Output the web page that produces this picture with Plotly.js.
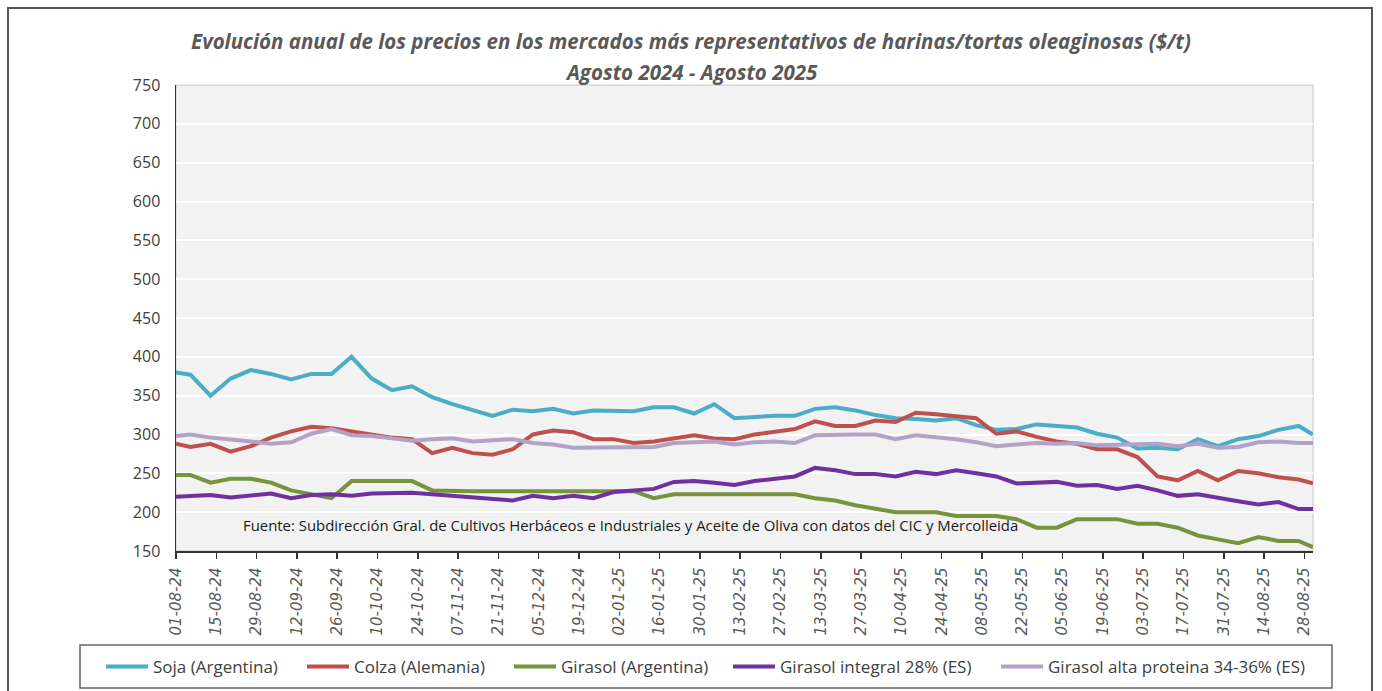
<!DOCTYPE html>
<html>
<head>
<meta charset="utf-8">
<script src="https://cdn.plot.ly/plotly-3.0.1.min.js"></script>
<style>
  html, body { margin: 0; padding: 0; background: #fff; }
  #chart { width: 1382px; height: 691px; }
  #frame { position: absolute; left: 7px; top: 7px; width: 1366px; height: 700px;
           border: 2px solid #555; pointer-events: none; box-sizing: border-box; }
</style>
</head>
<body>
<div id="chart"></div>
<div id="frame"></div>
<script>
// Fechas de las observaciones
const dates = [
  '2024-08-01',
  '2024-08-06','2024-08-13','2024-08-20','2024-08-27',
  '2024-09-03','2024-09-10','2024-09-17','2024-09-24',
  '2024-10-01','2024-10-08','2024-10-15','2024-10-22','2024-10-29',
  '2024-11-05','2024-11-12','2024-11-19','2024-11-26',
  '2024-12-03','2024-12-10','2024-12-17','2024-12-24','2024-12-31',
  '2025-01-07','2025-01-14','2025-01-21','2025-01-28',
  '2025-02-04','2025-02-11','2025-02-18','2025-02-25',
  '2025-03-04','2025-03-11','2025-03-18','2025-03-25',
  '2025-04-01','2025-04-08','2025-04-15','2025-04-22','2025-04-29',
  '2025-05-06','2025-05-13','2025-05-20','2025-05-27',
  '2025-06-03','2025-06-10','2025-06-17','2025-06-24',
  '2025-07-01','2025-07-08','2025-07-15','2025-07-22','2025-07-29',
  '2025-08-05','2025-08-12','2025-08-19','2025-08-26',
  '2025-08-31'
];

const soja = [380,
  377,350,372,383, 378,371,378,378, 400,372,357,362,348,
  339,331,324,332, 330,333,327,331,331, 330,335,335,327,
  339,321,323,324, 324,333,335,331, 325,321,320,318,321,
  312,306,307,313, 311,309,301,296, 282,283,281,294,285,
  294,298,306,311,
  300];

const colza = [288,
  284,288,278,285, 296,304,310,308, 304,300,296,294,276,
  283,276,274,281, 300,305,303,294,294, 289,291,295,299,
  295,294,300,304, 307,317,311,311, 318,316,328,326,324,
  321,301,304,297, 291,288,281,281, 271,246,241,253,241,
  253,250,245,242,
  237];

const girasolArg = [248,
  248,238,243,243, 238,228,223,218, 240,240,240,240,228,
  227,227,227,227, 227,227,227,227,227, 227,218,223,223,
  223,223,223,223, 223,218,215,209, 205,200,200,200,195,
  195,195,191,180, 180,191,191,191, 185,185,180,170,165,
  160,168,163,163,
  155];

const girasolIntegral = [220,
  221,222,219,221, 224,218,222,223, 221,224,224,225,223,
  221,219,217,215, 221,218,221,218,226, 228,230,239,240,
  238,235,240,243, 246,257,254,249, 249,246,252,249,254,
  250,246,237,238, 239,234,235,230, 234,228,221,223,218,
  214,210,213,204,
  204];

const girasolAlta = [298,
  300,296,294,291, 288,290,301,307, 299,298,295,292,294,
  295,291,293,294, 289,287,283,283,283, 284,284,289,290,
  291,287,290,291, 289,299,300,300, 300,294,299,297,294,
  290,285,287,289, 288,289,286,287, 288,288,285,288,283,
  284,290,291,289,
  289];

const tickLabels = ['01-08-24','15-08-24','29-08-24','12-09-24','26-09-24','10-10-24','24-10-24',
  '07-11-24','21-11-24','05-12-24','19-12-24','02-01-25','16-01-25','30-01-25','13-02-25',
  '27-02-25','13-03-25','27-03-25','10-04-25','24-04-25','08-05-25','22-05-25','05-06-25',
  '19-06-25','03-07-25','17-07-25','31-07-25','14-08-25','28-08-25'];
const tickVals = tickLabels.map(s => { const p = s.split('-'); return '20' + p[2] + '-' + p[1] + '-' + p[0]; });

const seriesNames = ['Soja (Argentina)','Colza (Alemania)','Girasol (Argentina)',
  'Girasol integral 28% (ES)','Girasol alta proteina 34-36% (ES)'];
const seriesColors = ['#4bacc6','#c0504d','#77933c','#7030a0','#b3a2c7'];
const seriesValues = [soja, colza, girasolArg, girasolIntegral, girasolAlta];

const legendIds = ['legend','legend2','legend3','legend4','legend5'];

const traces = seriesValues.map((vals, i) => ({
  x: dates, y: vals, type: 'scatter', mode: 'lines', name: seriesNames[i],
  legend: legendIds[i],
  line: { color: seriesColors[i], width: 4 }
}));

const W = 1382, H = 691, L = 176, R = 1313, T = 85, B = 551;
const px = x => (x - L) / (R - L);
const py = y => (B - y) / (B - T);

const legendStartPx = [108, 309, 516, 735, 1003];

const layout = {
  width: W, height: H,
  margin: { l: L, r: W - R, t: T, b: H - B, pad: 0, autoexpand: false },
  paper_bgcolor: '#ffffff',
  plot_bgcolor: '#f2f2f2',
  font: { family: 'Open Sans, sans-serif', color: '#404040' },
  title: {
    text: 'Evolución anual de los precios en los mercados más representativos de harinas/tortas oleaginosas ($/t)',
    font: { family: 'Open Sans, sans-serif', size: 20.5, color: '#595959', weight: 'bold', style: 'italic' },
    xref: 'container', x: 0.5, xanchor: 'center',
    yref: 'container', y: 1 - 42 / H, yanchor: 'middle'
  },
  xaxis: {
    type: 'date',
    range: ['2024-08-01', '2025-08-31'],
    tickvals: tickVals, ticktext: tickLabels,
    tickangle: -90,
    ticks: 'outside', ticklen: 6, tickwidth: 1.5, tickcolor: '#333',
    showline: true, linecolor: '#333', linewidth: 1.5,
    showgrid: false, zeroline: false,
    ticklabelstandoff: 3,
    tickfont: { family: 'DejaVu Sans, sans-serif', size: 15, color: '#595959', style: 'italic' }
  },
  yaxis: {
    range: [150, 750], tick0: 150, dtick: 50,
    showgrid: true, gridcolor: '#ffffff', gridwidth: 2,
    showline: true, linecolor: '#333', linewidth: 1.5,
    zeroline: false, ticks: '',
    ticklabelstandoff: 11,
    tickfont: { family: 'Open Sans, sans-serif', size: 16, color: '#404040' }
  },
  showlegend: true,
  shapes: [
    { type: 'rect', xref: 'paper', yref: 'paper', x0: 0, x1: 1, y0: 0, y1: 1,
      line: { color: '#c8c8c8', width: 1 }, layer: 'between' },
    { type: 'rect', xref: 'paper', yref: 'paper', x0: px(80), x1: px(1332), y0: py(688), y1: py(645),
      line: { color: '#666', width: 1.5 }, fillcolor: 'rgba(0,0,0,0)', layer: 'below' }
  ],
  annotations: [
    { text: 'Agosto 2024 - Agosto 2025', xref: 'paper', yref: 'paper',
      x: px(691), y: py(72), xanchor: 'center', yanchor: 'middle', showarrow: false,
      font: { family: 'Open Sans, sans-serif', size: 20.5, color: '#595959', weight: 'bold', style: 'italic' } },
    { text: 'Fuente: Subdirección Gral. de Cultivos Herbáceos e Industriales y Aceite de Oliva con datos del CIC y Mercolleida',
      xref: 'paper', yref: 'paper', x: px(241), y: py(525), xanchor: 'left', yanchor: 'middle', showarrow: false,
      font: { family: 'Open Sans, sans-serif', size: 14.9, color: '#1a1a1a' } }
  ]
};

legendIds.forEach((id, i) => {
  layout[id] = {
    orientation: 'h', x: px(legendStartPx[i] - 7), xanchor: 'left', y: py(667), yanchor: 'middle',
    bgcolor: 'rgba(0,0,0,0)', borderwidth: 0, itemwidth: 42,
    font: { family: 'Open Sans, sans-serif', size: 17, color: '#404040' }
  };
});

Plotly.newPlot('chart', traces, layout, { displayModeBar: false, staticPlot: true });
</script>
</body>
</html>
